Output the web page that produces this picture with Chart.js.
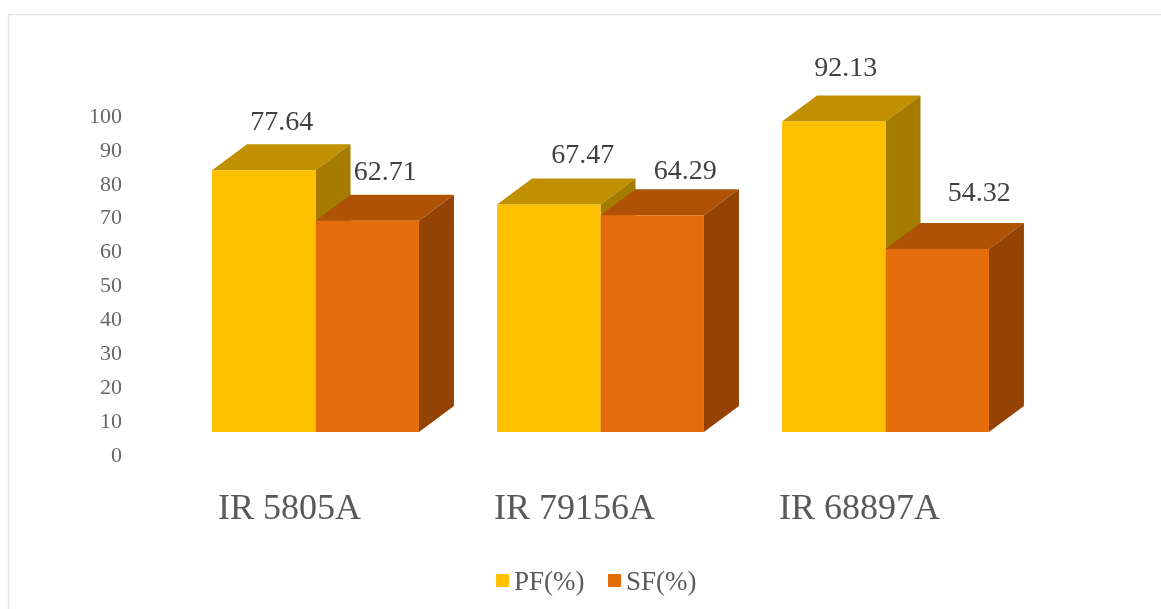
<!DOCTYPE html>
<html>
<head>
<meta charset="utf-8">
<title>PF and SF by line</title>
<style>
    html, body { margin: 0; background: #fff; }
    canvas { display: block; }
</style>
<script src="https://cdn.jsdelivr.net/npm/chart.js@4"></script>
</head>
<body>
<canvas id="pfChart" width="1161" height="609"></canvas>
<script>
const CATEGORIES = ['IR 5805A', 'IR 79156A', 'IR 68897A'];
const PF_VALUES = [77.64, 67.47, 92.13];
const SF_VALUES = [62.71, 64.29, 54.32];
const TICK_MIN = 0;
const TICK_MAX = 100;
const TICK_STEP = 10;

const FONT = '"Liberation Serif", serif';
const DEPTH_X = 35;
const DEPTH_Y = 26;

// bar faces per series: [front, top, side]
const PF_COLORS = ['#FFC000', '#C09000', '#A67C00'];
const SF_COLORS = ['#E46C0A', '#AF5206', '#954304'];

// value labels sit over the depth of the bar, each nudged by hand: [x, y]
const LABEL_NUDGE = [
    [[18, -48], [34, -49], [12, -53]],
    [[18, -48], [33, -44], [42, -55]]
];

function drawQuad(c, points, color) {
    c.fillStyle = color;
    c.beginPath();
    points.forEach(([x, y], i) => (i ? c.lineTo(x, y) : c.moveTo(x, y)));
    c.closePath();
    c.fill();
}

const frame = {
    id: 'frame',
    beforeDraw(chart) {
        const c = chart.ctx;
        c.save();
        c.strokeStyle = '#E2E2E2';
        c.lineWidth = 1.5;
        c.strokeRect(8.5, 14.5, 1300, 800);
        c.restore();
    }
};

// top and side faces go under the fronts that Chart.js draws itself
const depthFaces = {
    id: 'depthFaces',
    beforeDatasetsDraw(chart) {
        const c = chart.ctx;
        chart.data.datasets.forEach((ds, i) => {
            chart.getDatasetMeta(i).data.forEach(bar => {
                const left = bar.x - bar.width / 2;
                const right = bar.x + bar.width / 2;
                drawQuad(c, [
                    [left, bar.y], [right, bar.y],
                    [right + DEPTH_X, bar.y - DEPTH_Y], [left + DEPTH_X, bar.y - DEPTH_Y]
                ], ds.faceColors[1]);
                drawQuad(c, [
                    [right, bar.y], [right + DEPTH_X, bar.y - DEPTH_Y],
                    [right + DEPTH_X, bar.base - DEPTH_Y], [right, bar.base]
                ], ds.faceColors[2]);
            });
        });
    }
};

const valueLabels = {
    id: 'valueLabels',
    afterDatasetsDraw(chart) {
        const c = chart.ctx;
        c.save();
        c.font = `28px ${FONT}`;
        c.fillStyle = '#404040';
        c.textAlign = 'center';
        c.textBaseline = 'middle';
        chart.data.datasets.forEach((ds, i) => {
            chart.getDatasetMeta(i).data.forEach((bar, j) => {
                const [dx, dy] = LABEL_NUDGE[i][j];
                c.fillText(ds.data[j].toFixed(2), bar.x + dx, bar.y + dy);
            });
        });
        c.restore();
    }
};

// legend has a tighter gap between swatch and text than the built-in one allows
const swatchLegend = {
    id: 'swatchLegend',
    afterDraw(chart) {
        const c = chart.ctx;
        const swatchX = [496, 608];
        c.save();
        c.font = `27px ${FONT}`;
        c.textBaseline = 'middle';
        chart.data.datasets.forEach((ds, i) => {
            c.fillStyle = ds.backgroundColor;
            c.fillRect(swatchX[i], 574, 13, 13);
            c.fillStyle = '#595959';
            c.fillText(ds.label, swatchX[i] + 18, 583);
        });
        c.restore();
    }
};

new Chart(document.getElementById('pfChart').getContext('2d'), {
    type: 'bar',
    data: {
        labels: CATEGORIES,
        datasets: [
            { label: 'PF(%)', data: PF_VALUES, backgroundColor: PF_COLORS[0], faceColors: PF_COLORS },
            { label: 'SF(%)', data: SF_VALUES, backgroundColor: SF_COLORS[0], faceColors: SF_COLORS }
        ]
    },
    options: {
        responsive: false,
        animation: false,
        layout: { padding: { top: 117, right: 133, bottom: 0, left: 0 } },
        datasets: { bar: { categoryPercentage: 0.726, barPercentage: 1, borderWidth: 0 } },
        plugins: {
            legend: { display: false },
            tooltip: { enabled: false }
        },
        scales: {
            x: {
                grid: { display: false },
                border: { display: false },
                afterFit: scale => { scale.height = 153; },
                ticks: {
                    color: '#595959',
                    font: { family: FONT, size: 36 },
                    padding: 24,
                    labelOffset: -26,
                    maxRotation: 0
                }
            },
            // bars stand on a floor above the printed zero, so they get their own hidden axis
            y: {
                display: false,
                min: -7.12,
                max: 93.47
            },
            yTicks: {
                axis: 'y',
                position: 'left',
                min: TICK_MIN,
                max: TICK_MAX,
                grid: { display: false, drawTicks: false },
                border: { display: false },
                afterFit: scale => { scale.width = 173; },
                ticks: {
                    stepSize: TICK_STEP,
                    color: '#666666',
                    font: { family: FONT, size: 22 },
                    padding: 51
                }
            }
        }
    },
    plugins: [frame, depthFaces, valueLabels, swatchLegend]
});
</script>
</body>
</html>
